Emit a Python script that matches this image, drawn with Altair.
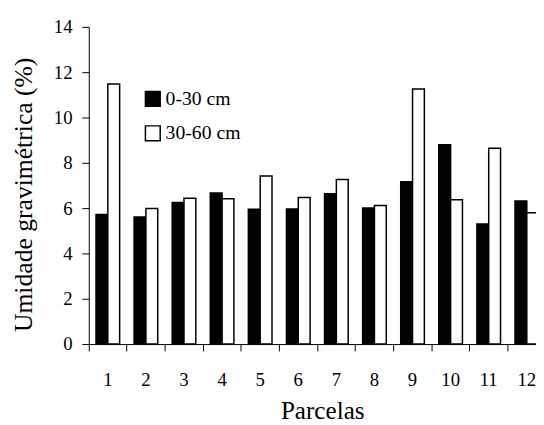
import altair as alt
import pandas as pd

parcelas = [str(i) for i in range(1, 13)]
camada_0_30 = [5.72, 5.61, 6.25, 6.67, 5.95, 5.96, 6.63, 6.01, 7.16, 8.80, 5.30, 6.32]
camada_30_60 = [11.48, 5.98, 6.44, 6.41, 7.42, 6.47, 7.26, 6.12, 11.26, 6.37, 8.64, 5.80]
series = ["0-30 cm", "30-60 cm"]
y_ticks = [0, 2, 4, 6, 8, 10, 12, 14]

rows = []
for p, a, b in zip(parcelas, camada_0_30, camada_30_60):
    rows.append({"Parcela": p, "Camada": series[0], "Umidade": a})
    rows.append({"Parcela": p, "Camada": series[1], "Umidade": b})
df = pd.DataFrame(rows)

FONT = "Liberation Serif"

chart = alt.Chart(df).mark_bar(stroke="black", strokeWidth=1.5).encode(
    x=alt.X(
        "Parcela:N",
        sort=parcelas,
        scale=alt.Scale(range=[0, 464], paddingInner=0, paddingOuter=0),
        axis=alt.Axis(
            title="Parcelas",
            labelAngle=0,
            bandPosition=0,
            tickSize=7,
            labelPadding=35,
            labelBaseline="alphabetic",
            labelFont=FONT,
            labelFontSize=19,
            titleFont=FONT,
            titleFontSize=25.5,
            titleX=237,
            titleY=75.7,
            titleBaseline="alphabetic",
            titleAlign="center",
        ),
    ),
    xOffset=alt.XOffset(
        "Camada:N", sort=series, scale=alt.Scale(paddingOuter=0.611, paddingInner=0)
    ),
    y=alt.Y(
        "Umidade:Q",
        scale=alt.Scale(domain=[0, 14], nice=False),
        axis=alt.Axis(
            values=y_ticks,
            title="Umidade gravimétrica (%)",
            tickSize=7,
            labelPadding=10,
            labelFont=FONT,
            labelFontSize=19,
            titleFont=FONT,
            titleFontSize=26,
            titleX=-58,
            titleY=170,
            titleAngle=270,
            titleBaseline="alphabetic",
            titleAlign="center",
            grid=False,
        ),
    ),
    color=alt.Color(
        "Camada:N",
        sort=series,
        scale=alt.Scale(domain=series, range=["black", "white"]),
        legend=alt.Legend(
            title=None,
            orient="none",
            legendX=55,
            legendY=63,
            padding=0,
            symbolType="square",
            symbolSize=225,
            symbolStrokeColor="black",
            symbolStrokeWidth=1.5,
            labelFont=FONT,
            labelFontSize=20,
            labelOffset=3,
            rowPadding=13,
            labelColor="black",
        ),
    ),
).properties(
    width=454,
    height=322,
    autosize=alt.AutoSizeParams(type="none"),
    padding={"left": 82, "top": 16, "right": 0, "bottom": 79},
).configure(
    font=FONT
).configure_view(
    strokeWidth=0
).configure_axis(
    labelFont=FONT,
    titleFont=FONT,
    labelColor="black",
    titleColor="black",
    domainColor="black",
    tickColor="black",
    titleFontWeight="normal",
    grid=False,
).configure_legend(
    labelFont=FONT
)

chart.save("out.html", embed_options={"renderer": "svg", "actions": False})
